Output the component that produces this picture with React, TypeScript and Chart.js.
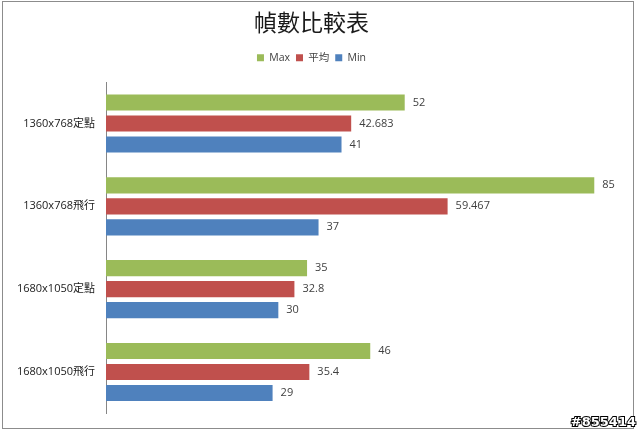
import React, { useRef, useEffect } from 'react';
import Chart from 'chart.js/auto';

const categories = ['1360x768定點', '1360x768飛行', '1680x1050定點', '1680x1050飛行'];
const maxValues = [52, 85, 35, 46];
const avgValues = [42.683, 59.467, 32.8, 35.4];
const minValues = [41, 37, 30, 29];
const seriesNames = ['Max', '平均', 'Min'];

const FONT = '"Open Sans", "Noto Sans CJK TC", sans-serif';

const valueLabels = {
  id: 'valueLabels',
  afterDatasetsDraw(chart: any) {
    const ctx = chart.ctx;
    ctx.save();
    ctx.font = `11px ${FONT}`;
    ctx.fillStyle = '#404040';
    ctx.textBaseline = 'middle';
    ctx.textAlign = 'left';
    chart.data.datasets.forEach((ds: any, i: number) => {
      const meta = chart.getDatasetMeta(i);
      meta.data.forEach((bar: any, j: number) => {
        ctx.fillText(String(ds.data[j]), bar.x + 8, bar.y);
      });
    });
    ctx.restore();
  },
};

// give the legend some extra room underneath, like the original
const legendGap = {
  id: 'legendGap',
  afterInit(chart: any) {
    const legend = chart.legend;
    if (!legend) return;
    const fit = legend.fit;
    legend.fit = function () {
      fit.call(this);
      this.height += 9;
    };
  },
};

const frame = {
  id: 'frame',
  beforeDraw(chart: any) {
    const ctx = chart.ctx;
    ctx.save();
    ctx.fillStyle = '#ffffff';
    ctx.fillRect(0, 0, chart.width, chart.height);
    ctx.strokeStyle = '#8c8c8c';
    ctx.lineWidth = 1;
    ctx.strokeRect(2.5, 1.5, 631, 427);
    ctx.restore();
  },
  afterDraw(chart: any) {
    const ctx = chart.ctx;
    ctx.save();
    ctx.font = `bold 13px "DejaVu Sans", sans-serif`;
    ctx.textAlign = 'right';
    ctx.textBaseline = 'bottom';
    ctx.lineWidth = 2;
    ctx.strokeStyle = '#000000';
    ctx.strokeText('#855414', 636, 429);
    ctx.fillStyle = '#ffffff';
    ctx.fillText('#855414', 636, 429);
    ctx.restore();
  },
};

const App: React.FC = () => {
  const chartRef = useRef<HTMLCanvasElement>(null);
  const chartInstance = useRef<Chart | null>(null);

  useEffect(() => {
    document.body.style.margin = '0';
    if (chartRef.current) {
      const ctx = chartRef.current.getContext('2d');
      if (ctx) {
        if (chartInstance.current) {
          chartInstance.current.destroy();
        }
        chartInstance.current = new Chart(ctx, {
          type: 'bar',
          data: {
            labels: categories,
            datasets: [
              { label: seriesNames[0], data: maxValues, backgroundColor: '#9BBB59' },
              { label: seriesNames[1], data: avgValues, backgroundColor: '#C0504D' },
              { label: seriesNames[2], data: minValues, backgroundColor: '#4F81BD' },
            ],
          },
          options: {
            indexAxis: 'y',
            animation: false,
            responsive: false,
            devicePixelRatio: 1,
            categoryPercentage: 0.76,
            barPercentage: 0.77,
            layout: { padding: { left: 0, right: 17, top: 0, bottom: 16 } },
            plugins: {
              title: {
                display: true,
                text: '幀數比較表',
                color: '#1a1a1a',
                font: { family: '"Noto Sans CJK TC", serif', size: 23, weight: 'normal' },
                padding: { top: 8, bottom: 11 },
              },
              legend: {
                display: true,
                position: 'top',
                labels: {
                  color: '#404040',
                  boxWidth: 7,
                  boxHeight: 7,
                  padding: 6,
                  font: { family: FONT, size: 10.5 },
                },
              },
              tooltip: { enabled: false },
            },
            scales: {
              x: {
                display: false,
                min: 0,
                max: 90,
              },
              y: {
                afterFit(scale: any) {
                  scale.width = 106;
                },
                grid: { display: false, drawTicks: false },
                border: { display: true, color: '#868686' },
                ticks: {
                  color: '#1a1a1a',
                  padding: 11,
                  font: { family: FONT, size: 11 },
                },
              },
            },
          },
          plugins: [legendGap, valueLabels, frame],
        });
      }
    }

    return () => {
      if (chartInstance.current) {
        chartInstance.current.destroy();
        chartInstance.current = null;
      }
    };
  }, []);

  return <canvas ref={chartRef} width={640} height={431} style={{ display: 'block' }} />;
};

export default App;
